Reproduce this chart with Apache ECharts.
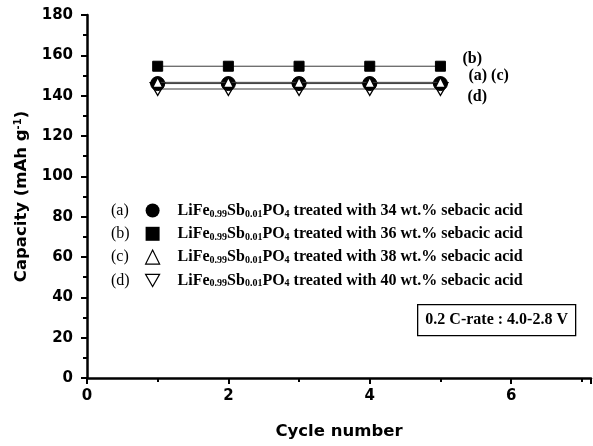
<!DOCTYPE html>
<html>
<head>
<meta charset="utf-8">
<title>Capacity vs cycle number</title>
<script src="https://cdn.jsdelivr.net/npm/echarts@6/dist/echarts.min.js"></script>
<style>
  html, body { margin: 0; padding: 0; background: #fff; }
  #chart { width: 593px; height: 446px; }
</style>
</head>
<body>
<div id="chart"></div>
<script>
// Discharge capacity of LiFe0.99Sb0.01PO4 samples over the first cycles
const cycles = [1, 2, 3, 4, 5];
const capacityA = [146.0, 146.0, 146.0, 146.0, 146.0];   // 34 wt.% sebacic acid
const capacityB = [154.6, 154.6, 154.6, 154.6, 154.6];   // 36 wt.% sebacic acid
const capacityC = [146.6, 146.6, 146.6, 146.6, 146.6];   // 38 wt.% sebacic acid
const capacityD = [143.3, 143.3, 143.3, 143.3, 143.3];   // 40 wt.% sebacic acid
const acidContents = ['34', '36', '38', '40'];
const seriesTags = ['(a)', '(b)', '(c)', '(d)'];
const yTicks = { min: 0, max: 180, interval: 20 };
const xTicks = { min: 0, max: 7.13, interval: 2 };
const conditionText = '0.2 C-rate : 4.0-2.8 V';

const serifFont = '"Liberation Serif", "DejaVu Serif", serif';
const sansFont = '"DejaVu Sans", sans-serif';
const downTriangle = 'path://M0,0L10,0L5,8.66Z';

const seriesNames = acidContents.map(
  w => 'LiFe0.99Sb0.01PO4 treated with ' + w + ' wt.% sebacic acid'
);

// turn the formula into rich text with subscripts
function formulaRich(name) {
  return '{g|}' + name
    .replace('Fe0.99', 'Fe{sub|0.99}')
    .replace('Sb0.01', 'Sb{sub|0.01}')
    .replace('PO4', 'PO{sub|4}');
}

function toPoints(values) {
  return cycles.map((c, i) => [c, values[i]]);
}

const lineColor = '#3a3a3a';
const endLabelStyle = {
  show: true,
  distance: 0,
  color: '#000',
  fontFamily: serifFont,
  fontWeight: 'bold',
  fontSize: 16
};

const series = [
  {
    name: seriesNames[0],
    data: toPoints(capacityA),
    symbol: 'circle',
    symbolSize: 14,
    itemStyle: { color: '#000', borderColor: '#000' },
    z: 3,
    endLabel: Object.assign({}, endLabelStyle, {
      formatter: seriesTags[0] + ' ' + seriesTags[2],
      offset: [28, -8]
    })
  },
  {
    name: seriesNames[1],
    data: toPoints(capacityB),
    symbol: 'rect',
    symbolSize: 10,
    itemStyle: { color: '#000', borderColor: '#000' },
    z: 3,
    endLabel: Object.assign({}, endLabelStyle, {
      formatter: seriesTags[1],
      offset: [22, -7]
    })
  },
  {
    name: seriesNames[2],
    data: toPoints(capacityC),
    symbol: 'triangle',
    symbolSize: 10,
    itemStyle: { color: '#fff', borderColor: '#000', borderWidth: 1.3 },
    z: 4
  },
  {
    name: seriesNames[3],
    data: toPoints(capacityD),
    symbol: downTriangle,
    symbolSize: [15, 13],
    itemStyle: { color: '#fff', borderColor: '#000', borderWidth: 1.3 },
    z: 2,
    endLabel: Object.assign({}, endLabelStyle, {
      formatter: seriesTags[3],
      offset: [27, 8]
    })
  }
].map(s => Object.assign({
  type: 'line',
  showSymbol: true,
  animation: false,
  lineStyle: { color: lineColor, width: 1 }
}, s));

const legendIcons = [
  { icon: 'circle', itemStyle: { color: '#000', borderWidth: 0 } },
  { icon: 'rect', itemStyle: { color: '#000', borderWidth: 0 } },
  { icon: 'triangle', itemStyle: { color: '#fff', borderColor: '#000', borderWidth: 1.2 } },
  { icon: downTriangle, itemStyle: { color: '#fff', borderColor: '#000', borderWidth: 1.2 } }
];

const legendTop = 202;
const legendPitch = 23.3;

const chart = echarts.init(document.getElementById('chart'), null, { renderer: 'canvas' });

chart.setOption({
  backgroundColor: '#fff',
  animation: false,
  grid: { left: 87, right: 2, top: 15, bottom: 68, containLabel: false },
  xAxis: {
    type: 'value',
    min: xTicks.min,
    max: xTicks.max,
    interval: xTicks.interval,
    name: 'Cycle number',
    nameLocation: 'middle',
    nameGap: 45,
    nameTextStyle: { color: '#000', fontFamily: sansFont, fontWeight: 'bold', fontSize: 16.5 },
    axisLine: { lineStyle: { color: '#000', width: 2.5 } },
    axisTick: { length: 6, lineStyle: { color: '#000', width: 2 } },
    minorTick: { show: true, splitNumber: 2, length: 4, lineStyle: { color: '#000', width: 2 } },
    splitLine: { show: false },
    axisLabel: {
      color: '#000', fontFamily: sansFont, fontWeight: 'bold', fontSize: 15,
      margin: 11, showMaxLabel: false
    }
  },
  yAxis: {
    type: 'value',
    min: yTicks.min,
    max: yTicks.max,
    interval: yTicks.interval,
    name: 'Capacity (mAh g{sup|-1})',
    nameLocation: 'middle',
    nameRotate: 90,
    nameGap: 57,
    nameTextStyle: {
      color: '#000', fontFamily: sansFont, fontWeight: 'bold', fontSize: 16.5,
      rich: {
        sup: { fontFamily: sansFont, fontWeight: 'bold', fontSize: 10, verticalAlign: 'top', lineHeight: 10 }
      }
    },
    axisLine: { show: true, lineStyle: { color: '#000', width: 2.5 } },
    axisTick: { show: true, length: 6, lineStyle: { color: '#000', width: 2 } },
    minorTick: { show: true, splitNumber: 2, length: 4, lineStyle: { color: '#000', width: 2 } },
    splitLine: { show: false },
    axisLabel: { color: '#000', fontFamily: sansFont, fontWeight: 'bold', fontSize: 15, margin: 14 }
  },
  legend: {
    orient: 'vertical',
    left: 145,
    top: legendTop,
    padding: 0,
    itemWidth: 14,
    itemHeight: 14,
    itemGap: legendPitch - 17,
    selectedMode: false,
    data: seriesNames.map((n, i) => Object.assign({ name: n }, legendIcons[i])),
    formatter: formulaRich,
    textStyle: {
      color: '#000', fontFamily: serifFont, fontWeight: 'bold', fontSize: 16, lineHeight: 17,
      rich: {
        g: { width: 13 },
        sub: { fontFamily: serifFont, fontWeight: 'bold', fontSize: 10, lineHeight: 9, verticalAlign: 'bottom' }
      }
    }
  },
  graphic: [
    // series tags in front of the legend markers
    ...seriesTags.map((t, i) => ({
      type: 'text',
      left: 111,
      top: legendTop + i * legendPitch,
      style: { text: t, fill: '#000', font: '16px ' + serifFont, lineHeight: 17 },
      silent: true
    })),
    // test condition box
    {
      type: 'group',
      left: 417,
      top: 304,
      children: [
        {
          type: 'rect',
          shape: { x: 0, y: 0, width: 158, height: 31 },
          style: { fill: '#fff', stroke: '#000', lineWidth: 1.3 }
        },
        {
          type: 'text',
          x: 79,
          y: 15.5,
          style: {
            text: conditionText, fill: '#000',
            font: 'bold 16px ' + serifFont,
            align: 'center', verticalAlign: 'middle'
          }
        }
      ]
    }
  ],
  series: series
});
</script>
</body>
</html>
